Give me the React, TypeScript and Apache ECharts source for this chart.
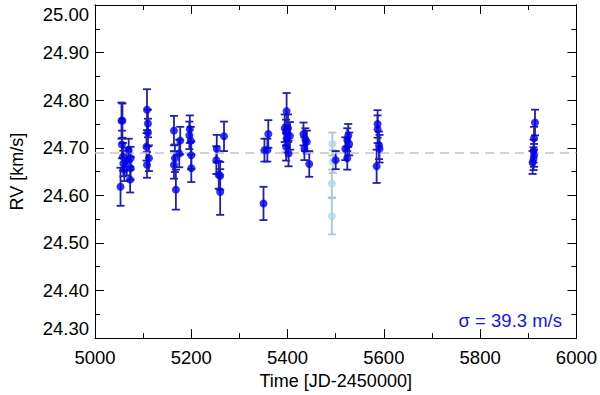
import React, { useEffect, useRef } from "react";
import * as echarts from "echarts";

// Blue RV measurements: time (JD-2450000), RV (km/s), error (km/s)
const blueT = [
  5053, 5055, 5057, 5056, 5058, 5059, 5061, 5066, 5070, 5074, 5074, 5073,
  5108, 5110, 5110, 5107, 5112, 5108,
  5164, 5166, 5164, 5168, 5177, 5175,
  5197, 5196, 5199, 5200, 5200,
  5253, 5252, 5257, 5260, 5260, 5268,
  5350, 5352, 5360, 5358,
  5398, 5394, 5397, 5401, 5398, 5397, 5402, 5405,
  5433, 5437, 5440, 5435, 5445,
  5500,
  5526, 5524, 5528, 5520, 5524,
  5587, 5587, 5590, 5591, 5585,
  5914, 5912, 5911, 5912, 5909, 5911,
];
const blueRV = [
  24.618, 24.757, 24.757, 24.707, 24.681, 24.667, 24.654, 24.671, 24.695, 24.678, 24.657, 24.633,
  24.78, 24.751, 24.732, 24.702, 24.678, 24.664,
  24.736, 24.678, 24.664, 24.612, 24.715, 24.688,
  24.739, 24.726, 24.715, 24.684, 24.657,
  24.698, 24.674, 24.643, 24.641, 24.607, 24.724,
  24.583, 24.695, 24.729, 24.695,
  24.777, 24.741, 24.732, 24.741, 24.719, 24.702, 24.688, 24.725,
  24.729, 24.717, 24.712, 24.698, 24.666,
  24.674,
  24.726, 24.717, 24.708, 24.698, 24.678,
  24.75, 24.739, 24.705, 24.698, 24.661,
  24.753, 24.72, 24.693, 24.684, 24.669, 24.677,
];
const blueErr = [
  0.04, 0.038, 0.036, 0.029, 0.029, 0.027, 0.024, 0.029, 0.024, 0.024, 0.024, 0.027,
  0.043, 0.029, 0.029, 0.029, 0.027, 0.027,
  0.031, 0.029, 0.029, 0.042, 0.029, 0.029,
  0.029, 0.029, 0.029, 0.029, 0.029,
  0.029, 0.029, 0.029, 0.029, 0.048, 0.031,
  0.035, 0.024, 0.029, 0.024,
  0.038, 0.029, 0.027, 0.029, 0.029, 0.029, 0.027, 0.029,
  0.024, 0.024, 0.024, 0.024, 0.027,
  0.019,
  0.024, 0.024, 0.024, 0.024, 0.024,
  0.029, 0.029, 0.029, 0.029, 0.035,
  0.027, 0.024, 0.024, 0.024, 0.024, 0.024,
];

// Light-blue measurements
const lightT = [5493, 5494, 5492, 5492];
const lightRV = [24.708, 24.671, 24.625, 24.556];
const lightErr = [0.024, 0.024, 0.029, 0.038];

const meanRV = 24.693;
const sigmaText = "σ = 39.3 m/s";

const yMajor = [24.3, 24.4, 24.5, 24.6, 24.7, 24.8, 24.9, 25.0];
const yMinor = [24.35, 24.45, 24.55, 24.65, 24.75, 24.85, 24.95];

const FONT = "'Liberation Sans', Arial, Helvetica, sans-serif";

function errRender(color: string) {
  return (params: any, api: any) => {
    const t = api.value(0);
    const v = api.value(1);
    const e = api.value(2);
    const hi = api.coord([t, v + e]);
    const lo = api.coord([t, v - e]);
    const w = 4;
    const style = { stroke: color, lineWidth: 1.8 };
    return {
      type: "group",
      children: [
        { type: "line", shape: { x1: hi[0], y1: hi[1], x2: lo[0], y2: lo[1] }, style },
        { type: "line", shape: { x1: hi[0] - w, y1: hi[1], x2: hi[0] + w, y2: hi[1] }, style },
        { type: "line", shape: { x1: lo[0] - w, y1: lo[1], x2: lo[0] + w, y2: lo[1] }, style },
      ],
    };
  };
}

export default function App() {
  const ref = useRef<HTMLDivElement>(null);
  useEffect(() => {
    if (!ref.current) return;
    const chart = echarts.init(ref.current, null, { renderer: "svg" });
    const blueData = blueT.map((t, i) => [t, blueRV[i], blueErr[i]]);
    const lightData = lightT.map((t, i) => [t, lightRV[i], lightErr[i]]);
    const axisLine = { show: true, lineStyle: { color: "#000", width: 1 } };
    const yBase = {
      type: "value",
      min: 24.3,
      max: 25.0,
      splitLine: { show: false },
      axisLine,
    };
    const xBase = {
      type: "value",
      min: 5000,
      max: 6000,
      interval: 200,
      splitLine: { show: false },
      axisLine,
      axisTick: { show: true, inside: true, length: 9, lineStyle: { color: "#000" } },
      minorTick: { show: true, splitNumber: 2, length: 5, lineStyle: { color: "#000" } },
      minorSplitLine: { show: false },
    };
    chart.setOption({
      animation: false,
      backgroundColor: "#fff",
      textStyle: { fontFamily: FONT },
      grid: { left: 88, right: 23, top: 5, bottom: 50 },
      xAxis: [
        {
          ...xBase,
          position: "bottom",
          name: "Time [JD-2450000]",
          nameLocation: "middle",
          nameGap: 29,
          nameTextStyle: { fontSize: 18, color: "#000", fontFamily: FONT },
          axisLabel: {
            fontSize: 18.5,
            color: "#000",
            margin: 10,
            fontFamily: FONT,
            formatter: (v: number) => String(v),
          },
        },
        {
          ...xBase,
          position: "top",
          axisLabel: { show: false },
        },
      ],
      yAxis: [
        {
          ...yBase,
          position: "left",
          name: "RV [km/s]",
          nameLocation: "middle",
          nameGap: 69,
          nameTextStyle: { fontSize: 18, color: "#000", fontFamily: FONT },
          axisTick: {
            show: true,
            inside: true,
            length: 9,
            customValues: yMajor,
            lineStyle: { color: "#000" },
          },
          axisLabel: {
            show: true,
            customValues: yMajor,
            fontSize: 18.5,
            color: "#000",
            margin: 6,
            fontFamily: FONT,
            verticalAlignMaxLabel: "top",
            verticalAlignMinLabel: "bottom",
            formatter: (v: number) => v.toFixed(2),
          },
        },
        {
          ...yBase,
          position: "left",
          axisTick: {
            show: true,
            inside: true,
            length: 5,
            customValues: yMinor,
            lineStyle: { color: "#000" },
          },
          axisLabel: { show: false },
        },
        {
          ...yBase,
          position: "right",
          axisTick: {
            show: true,
            inside: true,
            length: 9,
            customValues: yMajor,
            lineStyle: { color: "#000" },
          },
          axisLabel: { show: false },
        },
        {
          ...yBase,
          position: "right",
          axisTick: {
            show: true,
            inside: true,
            length: 5,
            customValues: yMinor,
            lineStyle: { color: "#000" },
          },
          axisLabel: { show: false },
        },
      ],
      series: [
        {
          type: "line",
          data: [],
          xAxisIndex: 0,
          yAxisIndex: 0,
          markLine: {
            silent: true,
            symbol: "none",
            label: { show: false },
            lineStyle: { color: "#c4c4c4", type: [9, 6], width: 1.5 },
            data: [{ yAxis: meanRV }],
          },
        },
        {
          type: "custom",
          xAxisIndex: 0,
          yAxisIndex: 0,
          renderItem: errRender("#a6c8d0"),
          data: lightData,
          z: 2,
        },
        {
          type: "scatter",
          xAxisIndex: 0,
          yAxisIndex: 0,
          symbol: "circle",
          symbolSize: 8,
          itemStyle: { color: "#add8e6" },
          data: lightData.map((d) => [d[0], d[1]]),
          z: 3,
        },
        {
          type: "custom",
          xAxisIndex: 0,
          yAxisIndex: 0,
          renderItem: errRender("#2020b0"),
          data: blueData,
          z: 4,
        },
        {
          type: "scatter",
          xAxisIndex: 0,
          yAxisIndex: 0,
          symbol: "circle",
          symbolSize: 8,
          itemStyle: { color: "#0000f0" },
          data: blueData.map((d) => [d[0], d[1]]),
          z: 5,
        },
      ],
      graphic: [
        {
          type: "text",
          right: 38,
          top: 311,
          style: {
            text: sigmaText,
            fill: "#1414e6",
            fontSize: 18.5,
            fontFamily: FONT,
          },
        },
      ],
    });
    return () => chart.dispose();
  }, []);
  return (
    <div
      ref={ref}
      style={{ position: "absolute", left: 0, top: 0, width: 600, height: 395 }}
    />
  );
}
